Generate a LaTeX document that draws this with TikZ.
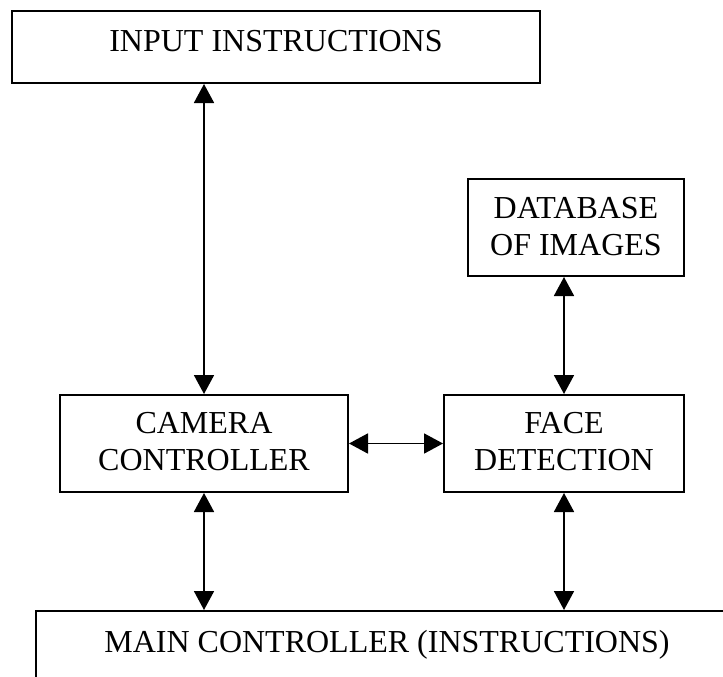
\documentclass[tikz,border=0pt]{standalone}
\usepackage{fontspec}
\setmainfont{Liberation Serif}
\usetikzlibrary{arrows.meta}
\begin{document}
\begin{tikzpicture}[x=1pt,y=-1pt,
  box/.style={draw, line width=2pt, inner sep=0pt},
  lbl/.style={font=\fontsize{32}{37}\selectfont, align=center, inner sep=0pt},
  link/.style={line width=1.8pt,
    {Triangle[length=19pt,width=20pt]}-{Triangle[length=19pt,width=20pt]}}]
\useasboundingbox (0,0) rectangle (723,677);
\clip (0,0) rectangle (723,677);

% boxes
\node[box, minimum width=528pt, minimum height=72pt] (inp) at (276,47) {};
\node[box, minimum width=216pt, minimum height=97pt] (db) at (576,227.5) {};
\node[box, minimum width=288pt, minimum height=97pt] (cam) at (204,443.5) {};
\node[box, minimum width=240pt, minimum height=97pt] (face) at (564,443.5) {};
\node[box, minimum width=702pt, minimum height=90pt] (main) at (387,656) {};

% labels
\node[lbl] (inpT) at (276,41.5) {INPUT INSTRUCTIONS};
\node[lbl] (dbT) at (576,227) {DATABASE\\OF IMAGES};
\node[lbl] (camT) at (204,442) {CAMERA\\CONTROLLER};
\node[lbl] (faceT) at (564,442) {FACE\\DETECTION};
\node[lbl, anchor=base] (mainT) at (387,652) {MAIN CONTROLLER (INSTRUCTIONS)};

% connections
\draw[link] (inp.south -| cam.north) -- (cam.north);
\draw[link] (db.south -| face.north) -- (face.north);
\draw[link] (cam.east) -- (face.west);
\draw[link] (cam.south) -- (cam.south |- main.north);
\draw[link] (face.south) -- (face.south |- main.north);
\end{tikzpicture}
\end{document}
